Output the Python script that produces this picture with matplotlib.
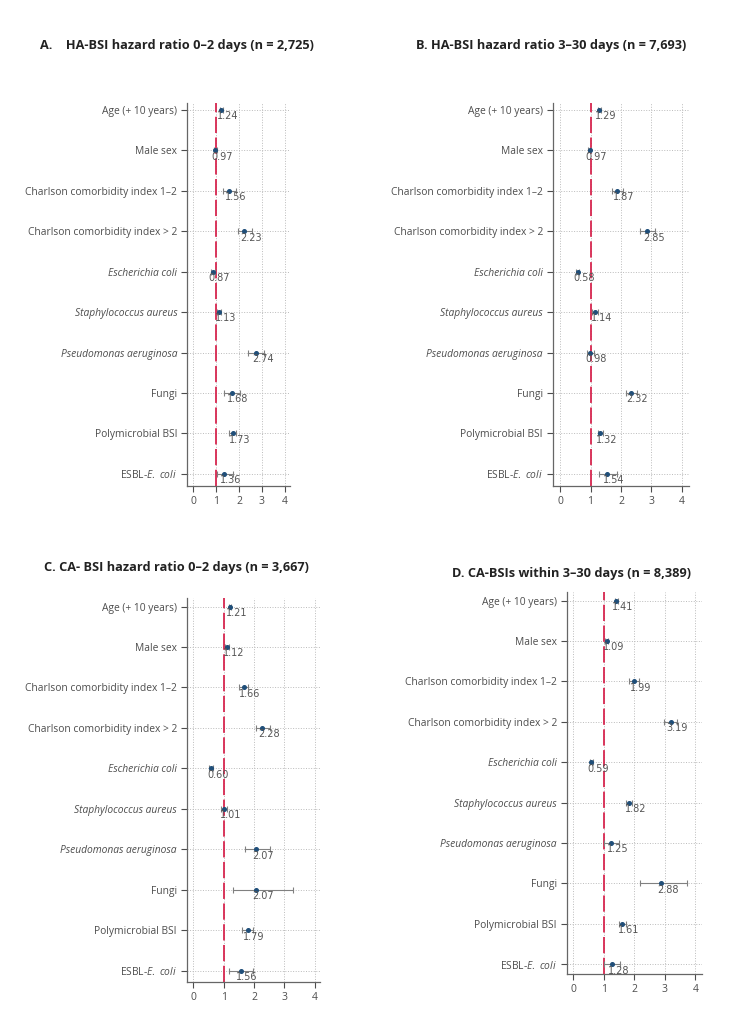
import numpy as np
import matplotlib
matplotlib.use("Agg")
import matplotlib.pyplot as plt

plt.rcParams['font.family'] = ['Open Sans', 'DejaVu Sans']
plt.rcParams['mathtext.fontset'] = 'custom'
plt.rcParams['mathtext.rm'] = 'Open Sans'
plt.rcParams['mathtext.it'] = 'Open Sans:italic'

labels = ["Age (+ 10 years)", "Male sex", "Charlson comorbidity index 1\u20132",
          "Charlson comorbidity index > 2", "Escherichia coli", "Staphylococcus aureus",
          "Pseudomonas aeruginosa", "Fungi", "Polymicrobial BSI", r"ESBL-$\mathit{E.\ coli}$"]
italic_rows = [4, 5, 6]

# hazard ratios and confidence limits per panel
a_hr = [1.24, 0.97, 1.56, 2.23, 0.87, 1.13, 2.74, 1.68, 1.73, 1.36]
a_lo = [1.19, 0.91, 1.30, 1.94, 0.79, 1.04, 2.38, 1.33, 1.55, 1.03]
a_hi = [1.29, 1.04, 1.86, 2.56, 0.96, 1.23, 3.07, 2.04, 1.87, 1.72]

b_hr = [1.29, 0.97, 1.87, 2.85, 0.58, 1.14, 0.98, 2.32, 1.32, 1.54]
b_lo = [1.25, 0.93, 1.70, 2.62, 0.54, 1.04, 0.90, 2.15, 1.24, 1.28]
b_hi = [1.33, 1.01, 2.05, 3.10, 0.62, 1.26, 1.10, 2.51, 1.40, 1.87]

c_hr = [1.21, 1.12, 1.66, 2.28, 0.60, 1.01, 2.07, 2.07, 1.79, 1.56]
c_lo = [1.17, 1.04, 1.51, 2.07, 0.53, 0.91, 1.69, 1.30, 1.62, 1.17]
c_hi = [1.25, 1.18, 1.82, 2.52, 0.67, 1.10, 2.54, 3.29, 1.96, 1.96]

d_hr = [1.41, 1.09, 1.99, 3.19, 0.59, 1.82, 1.25, 2.88, 1.61, 1.28]
d_lo = [1.36, 1.05, 1.83, 2.96, 0.56, 1.71, 1.02, 2.17, 1.49, 1.02]
d_hi = [1.46, 1.13, 2.15, 3.39, 0.63, 1.91, 1.50, 3.72, 1.72, 1.54]

titles = ["A.    HA-BSI hazard ratio 0\u20132 days (n = 2,725)",
          "B. HA-BSI hazard ratio 3\u201330 days (n = 7,693)",
          "C. CA- BSI hazard ratio 0\u20132 days (n = 3,667)",
          "D. CA-BSIs within 3\u201330 days (n = 8,389)"]

W, H = 733, 1036
fig = plt.figure(figsize=(W / 100, H / 100), dpi=100)

# pixel boxes: left, right, top, bottom, xlim, ylim
panels = [
    (187, 290, 103, 486, (-0.26, 4.22), (9.30, -0.17), a_hr, a_lo, a_hi),
    (552.7, 689, 103, 486, (-0.24, 4.23), (9.30, -0.17), b_hr, b_lo, b_hi),
    (186.7, 320, 598, 982.3, (-0.21, 4.17), (9.28, -0.21), c_hr, c_lo, c_hi),
    (566.7, 701.7, 591.7, 974.3, (-0.22, 4.21), (9.25, -0.22), d_hr, d_lo, d_hi),
]

grey = '#4d4d4d'
for (l, r, t, b, xl, yl, hr, lo, hi) in panels:
    ax = fig.add_axes([l / W, 1 - b / H, (r - l) / W, (b - t) / H])
    y = np.arange(len(labels))
    hr = np.array(hr)
    ax.set_xlim(*xl)
    ax.set_ylim(*yl)
    ax.set_xticks([0, 1, 2, 3, 4])
    ax.set_yticks(y)
    ax.set_yticklabels(labels)
    for i, tl in enumerate(ax.get_yticklabels()):
        if i in italic_rows:
            tl.set_fontstyle('italic')
    ax.tick_params(axis='y', labelsize=7.4, labelcolor=grey, color=grey, length=4, width=0.8, pad=3)
    ax.tick_params(axis='x', labelsize=7.5, labelcolor=grey, color=grey, length=4, width=0.8, pad=3)
    ax.grid(True, linestyle=':', color='#bbbbbb', linewidth=0.7)
    ax.set_axisbelow(True)
    for s in ['top', 'right']:
        ax.spines[s].set_visible(False)
    for s in ['left', 'bottom']:
        ax.spines[s].set_color('#666666')
        ax.spines[s].set_linewidth(0.9)
    ax.axvline(1, color='#d7264f', linewidth=1.3, dashes=(9, 2.5), zorder=2)
    ax.errorbar(hr, y, xerr=[hr - np.array(lo), np.array(hi) - hr], fmt='none',
                ecolor='#808080', elinewidth=0.8, capsize=2.5, capthick=0.8, zorder=3)
    ax.plot(hr, y, 'o', color='#1f4e79', markersize=2.6, zorder=4)
    for xv, yv in zip(hr, y):
        ax.annotate(f"{xv:.2f}", (xv, yv), xytext=(-3, -1), textcoords='offset points',
                    ha='left', va='top', fontsize=7, color='#555555', family='DejaVu Sans', zorder=5)

title_pos = [(40, 46, 9.2), (416, 46, 9.2), (44, 567, 9.2), (452, 573, 9.2)]
for (x, yy, fs), ttl in zip(title_pos, titles):
    fig.text(x / W, 1 - yy / H, ttl, fontsize=fs, fontweight='bold', color='#222222',
             ha='left', va='center')

fig.savefig('out.png', dpi=100)
